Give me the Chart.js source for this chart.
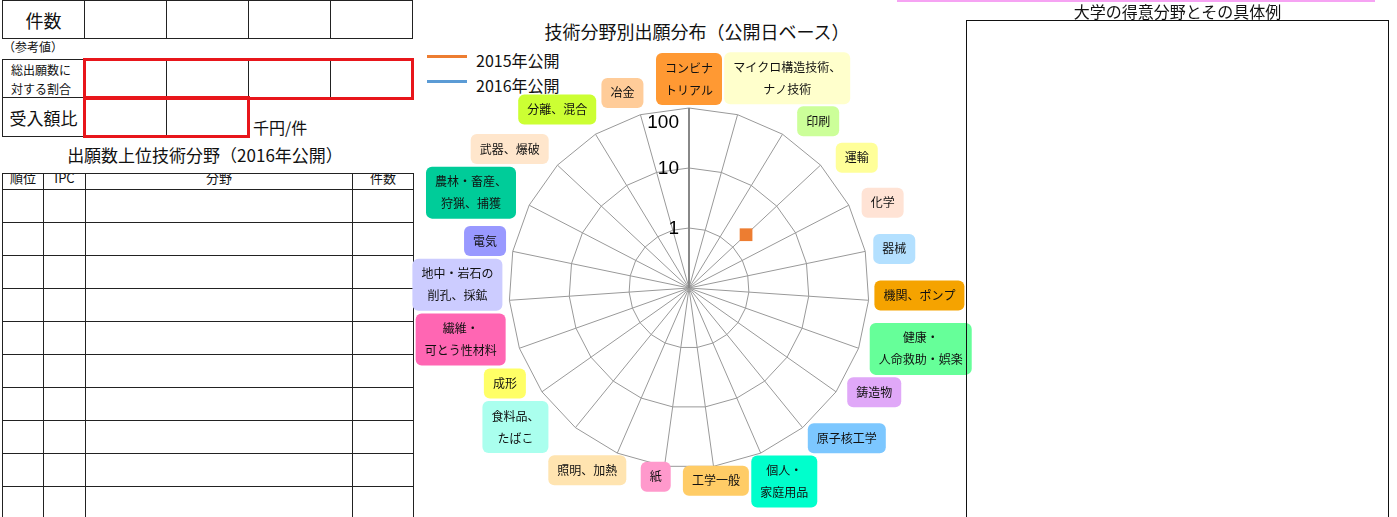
<!DOCTYPE html>
<html lang="ja">
<head>
<meta charset="utf-8">
<title>技術分野別出願分布（公開日ベース）</title>
<script src="https://cdn.jsdelivr.net/npm/chart.js@4.4.1/dist/chart.umd.min.js"></script>
<style>
  html, body { margin: 0; padding: 0; background: #fff; }
  body {
    width: 1397px; height: 517px; position: relative; overflow: hidden;
    font-family: "Noto Sans CJK JP", sans-serif; color: #111;
  }
  .abs { position: absolute; box-sizing: border-box; }
  .cell { position: absolute; box-sizing: border-box; border: 1px solid #222; }
  .center { display: flex; align-items: center; justify-content: center; }
  .red { position: absolute; box-sizing: border-box; border: 3px solid #e8161b; }
  #rankTable {
    position: absolute; left: 2px; top: 173px; width: 411px;
    border-collapse: collapse; table-layout: fixed; font-size: 13px;
  }
  #rankTable th, #rankTable td { border: 1px solid #222; padding: 0; }
  #rankTable th { height: 15px; font-weight: normal; vertical-align: top; overflow: hidden; }
  #rankTable th span { display: block; line-height: 13px; margin-top: -3px; }
  #rankTable td { height: 32px; }
  #chartWrap { position: absolute; left: 339px; top: 38px; width: 700px; height: 500px; z-index: 0; }
  .legendLine { position: absolute; height: 3px; width: 40px; }
  .legendText { position: absolute; font-size: 16px; line-height: 16px; }
</style>
</head>
<body>

<!-- 件数 -->
<div class="cell center" style="left:2px;top:0;width:83px;height:39px;font-size:18px;">件数</div>
<div class="cell" style="left:84px;top:0;width:83px;height:39px;"></div>
<div class="cell" style="left:166px;top:0;width:83px;height:39px;"></div>
<div class="cell" style="left:248px;top:0;width:83px;height:39px;"></div>
<div class="cell" style="left:330px;top:0;width:83px;height:39px;"></div>

<div class="abs" style="left:3px;top:39px;font-size:12px;line-height:16px;">（参考値）</div>

<!-- 割合・受入額比 -->
<div class="cell" style="left:2px;top:59px;width:83px;height:39px;font-size:12px;line-height:19px;padding-left:8px;">総出願数に<br>対する割合</div>
<div class="cell center" style="left:2px;top:97px;width:83px;height:40px;font-size:17px;">受入額比</div>
<div class="cell" style="left:166px;top:59px;width:83px;height:39px;border-top:none;border-bottom:none;"></div>
<div class="cell" style="left:330px;top:59px;width:1px;height:39px;border-width:0 0 0 1px;"></div>
<div class="cell" style="left:166px;top:97px;width:1px;height:40px;border-width:0 0 0 1px;"></div>
<div class="red" style="left:83px;top:58px;width:331px;height:42px;"></div>
<div class="red" style="left:83px;top:96px;width:167px;height:42px;"></div>
<div class="abs" style="left:253px;top:117px;font-size:16px;line-height:20px;">千円/件</div>

<div class="abs" style="left:0;top:144px;width:410px;text-align:center;font-size:17px;line-height:22px;">出願数上位技術分野（2016年公開）</div>

<table id="rankTable">
  <colgroup><col style="width:41px"><col style="width:42px"><col style="width:267px"><col style="width:61px"></colgroup>
  <thead><tr><th><span>順位</span></th><th><span>IPC</span></th><th><span>分野</span></th><th><span>件数</span></th></tr></thead>
  <tbody id="rankBody"></tbody>
</table>

<!-- レーダーチャート -->
<div class="abs" style="left:489px;top:19px;width:416px;text-align:center;font-size:18px;line-height:24px;">技術分野別出願分布（公開日ベース）</div>
<div id="legend"></div>
<div id="chartWrap"><canvas id="radarChart" width="700" height="500"></canvas></div>

<!-- 大学の得意分野 -->
<div class="abs" style="left:897px;top:0;width:478px;height:2px;background:#f6a3f3;"></div>
<div class="abs" style="left:966px;top:1px;width:423px;text-align:center;font-size:16px;line-height:20px;">大学の得意分野とその具体例</div>
<div class="abs" style="left:966px;top:20px;width:423px;height:510px;border:1.5px solid #111;"></div>

<script>
// 技術分野（時計回り、上から）
const categories = [
  ["コンビナ", "トリアル"], ["マイクロ構造技術、", "ナノ技術"], "印刷", "運輸", "化学", "器械",
  "機関、ポンプ", ["健康・", "人命救助・娯楽"], "鋳造物", "原子核工学", ["個人・", "家庭用品"],
  "工学一般", "紙", "照明、加熱", ["食料品、", "たばこ"], "成形", ["繊維・", "可とう性材料"],
  ["地中・岩石の", "削孔、採鉱"], "電気", ["農林・畜産、", "狩猟、捕獲"], "武器、爆破", "分離、混合", "冶金"
];

const labelColors = [
  "#ff9933", "#ffffcc", "#ccff99", "#ffff99", "#ffe3d5", "#b3e0ff",
  "#f5a300", "#66ff99", "#e0a8f8", "#7cc7ff", "#00ffcc",
  "#ffcc66", "#ff99cc", "#ffe4b0", "#aaffee", "#ffff66", "#ff66b3",
  "#ccccff", "#9999ff", "#00cc99", "#ffe6cc", "#ccff33", "#ffcc99"
];

const seriesNames = ["2015年公開", "2016年公開"];
const seriesColors = ["#ed7d31", "#5b9bd5"];

// 出願件数（未出願は null）
const counts2015 = [null, null, null, 2, null, null, null, null, null, null, null, null,
  null, null, null, null, null, null, null, null, null, null, null];
const counts2016 = [null, null, null, null, null, null, null, null, null, null, null, null,
  null, null, null, null, null, null, null, null, null, null, null];

// 対数目盛
const tickValues = [1, 10, 100];
const axisMin = 0.1;
const axisMax = 100;

const rankRows = 10;

// 順位表の空行
const rankBody = document.getElementById("rankBody");
for (let i = 0; i < rankRows; i++) {
  const tr = document.createElement("tr");
  for (let j = 0; j < 4; j++) tr.appendChild(document.createElement("td"));
  rankBody.appendChild(tr);
}

// 凡例
const legend = document.getElementById("legend");
seriesNames.forEach((name, i) => {
  const y = 55 + i * 25;
  const line = document.createElement("div");
  line.className = "legendLine";
  line.style.left = "427px";
  line.style.top = y + "px";
  line.style.background = seriesColors[i];
  legend.appendChild(line);
  const text = document.createElement("div");
  text.className = "legendText";
  text.style.left = "476px";
  text.style.top = (y - 3) + "px";
  text.textContent = name;
  legend.appendChild(text);
});

const toLog = (v) => (v == null ? null : Math.log10(v));

// 目盛ラベルは縦軸の左側に描く
const logTickLabels = {
  id: "logTickLabels",
  afterDraw(chart) {
    const scale = chart.scales.r;
    const ctx = chart.ctx;
    ctx.save();
    ctx.font = '19px "Liberation Sans", sans-serif';
    ctx.fillStyle = "#000";
    ctx.textAlign = "right";
    ctx.textBaseline = "middle";
    tickValues.forEach((v) => {
      const d = scale.getDistanceFromCenterForValue(Math.log10(v));
      const y = Math.max(scale.yCenter - d + 1, scale.yCenter - scale.drawingArea + 15);
      ctx.fillText(String(v), scale.xCenter - 10, y);
    });
    ctx.restore();
  }
};

// 分野名の色付きボックス：軸の先（横方向に少し広げた向き）に置き、
// 先に置いたボックスと重なれば円周方向へずらす
const labelFont = '12px "Noto Sans CJK JP", sans-serif';
const labelLineHeight = 22;
const labelPadX = 9;
const labelPadY = 4;
const labelSpread = 1.25;

const categoryLabels = {
  id: "categoryLabels",
  afterDraw(chart) {
    const scale = chart.scales.r;
    const ctx = chart.ctx;
    const placed = [];
    ctx.save();
    ctx.font = labelFont;
    ctx.textAlign = "center";
    ctx.textBaseline = "middle";
    categories.forEach((label, i) => {
      const lines = Array.isArray(label) ? label : [label];
      const w = Math.max(...lines.map((l) => ctx.measureText(l).width)) + 2 * labelPadX;
      const h = lines.length * labelLineHeight + 2 * labelPadY;
      const unit = scale.getPointPosition(i, 1);
      let dx = (unit.x - scale.xCenter) * labelSpread;
      let dy = unit.y - scale.yCenter;
      const len = Math.hypot(dx, dy);
      dx /= len;
      dy /= len;
      const gap = -2 + 7 * Math.abs(dx);
      const reach = scale.drawingArea + gap + Math.abs(dx) * w / 2 + Math.abs(dy) * h / 2;
      let cx = scale.xCenter + reach * dx;
      let cy = scale.yCenter + reach * dy - 5;
      const tx = -dy;
      const ty = dx;
      for (let step = 0; step < 80; step++) {
        const hit = placed.find((b) =>
          Math.abs(b.cx - cx) < (b.w + w) / 2 + 2 && Math.abs(b.cy - cy) < (b.h + h) / 2 + 2);
        if (!hit) break;
        const dir = (cx - hit.cx) * tx + (cy - hit.cy) * ty >= 0 ? 1 : -1;
        cx += dir * tx;
        cy += dir * ty;
      }
      placed.push({ cx, cy, w, h });

      ctx.fillStyle = labelColors[i];
      ctx.beginPath();
      ctx.roundRect(cx - w / 2, cy - h / 2, w, h, 6);
      ctx.fill();
      ctx.fillStyle = "#111";
      lines.forEach((line, k) => {
        ctx.fillText(line, cx, cy - h / 2 + labelPadY + labelLineHeight * (k + 0.5));
      });
    });
    ctx.restore();
  }
};

const datasets = [counts2015, counts2016].map((counts, i) => ({
  label: seriesNames[i],
  data: counts.map(toLog),
  borderColor: seriesColors[i],
  backgroundColor: seriesColors[i],
  borderWidth: 2.25,
  fill: false,
  pointStyle: "rect",
  pointRadius: 9,
  pointBorderWidth: 0,
  spanGaps: false
}));

new Chart(document.getElementById("radarChart"), {
  type: "radar",
  data: { labels: categories, datasets },
  options: {
    responsive: false,
    animation: false,
    layout: { padding: { top: 70, bottom: 70, left: 170, right: 170 } },
    plugins: {
      legend: { display: false },
      tooltip: { enabled: false }
    },
    scales: {
      r: {
        min: Math.log10(axisMin),
        max: Math.log10(axisMax),
        ticks: { display: false, stepSize: 1 },
        grid: { color: "#999", lineWidth: 1 },
        angleLines: {
          color: (ctx) => (ctx.index === 0 ? "#888" : "#999"),
          lineWidth: (ctx) => (ctx.index === 0 ? 2 : 1)
        },
        pointLabels: { display: false }
      }
    }
  },
  plugins: [categoryLabels, logTickLabels]
});
</script>
</body>
</html>
